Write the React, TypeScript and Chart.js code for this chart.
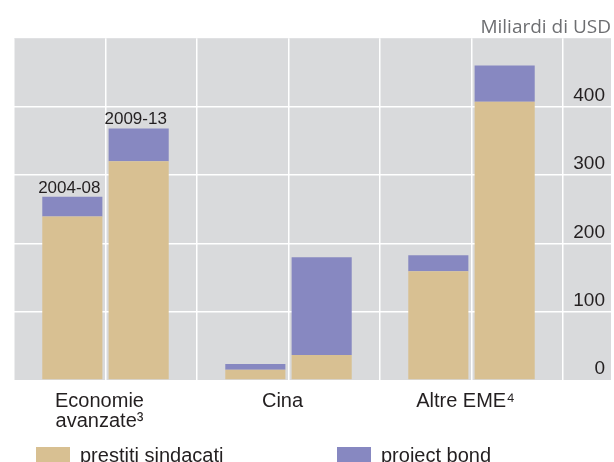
import React, { useEffect, useRef } from 'react';
import { Chart, registerables } from 'chart.js';

Chart.register(...registerables);

// ---- data ----
const categories: (string | string[])[] = [['Economie', 'avanzate³'], 'Cina', 'Altre EME⁴'];
const periods = ['2004-08', '2009-13'];
const seriesNames = ['prestiti sindacati', 'project bond'];
const prestiti2004 = [239, 15, 159];
const bond2004 = [29, 8.5, 23.5];
const prestiti2009 = [320, 36.5, 407];
const bond2009 = [48, 143, 53];
const yMax = 500;
const yStep = 100;
const unitLabel = 'Miliardi di USD';

// ---- styles ----
const TAN = '#d8c092';
const PURPLE = '#8788c1';
const BG = '#d9dadc';
const TEXT = '#231f20';
const FONT = "'Liberation Sans', Arial, Helvetica, sans-serif";

const halfSlots = categories.flatMap((_, i) => periods.map((p) => `${i}-${p}`));

const bgPlugin = {
  id: 'bgPanel',
  beforeDraw(chart: any) {
    const { ctx, chartArea } = chart;
    const yScale = chart.scales.y;
    ctx.save();
    ctx.fillStyle = BG;
    ctx.fillRect(chartArea.left, chartArea.top, yScale.right - chartArea.left, chartArea.bottom - chartArea.top);
    ctx.restore();
  },
};

const periodLabelPlugin = {
  id: 'periodLabels',
  afterDatasetsDraw(chart: any) {
    const ctx = chart.ctx;
    ctx.save();
    ctx.font = `17px ${FONT}`;
    ctx.fillStyle = TEXT;
    ctx.textAlign = 'center';
    ctx.textBaseline = 'alphabetic';
    [1, 3].forEach((dsIndex, k) => {
      const el = chart.getDatasetMeta(dsIndex).data[0];
      if (el) ctx.fillText(periods[k], el.x - 3, el.y - 4);
    });
    ctx.restore();
  },
};

export default function App() {
  const ref = useRef<HTMLCanvasElement | null>(null);

  useEffect(() => {
    document.body.style.margin = '0';
    if (!ref.current) return;
    const chart = new Chart(ref.current, {
      type: 'bar',
      data: {
        labels: categories as any,
        datasets: [
          { label: seriesNames[0], data: prestiti2004, backgroundColor: TAN, stack: periods[0] },
          { label: seriesNames[1], data: bond2004, backgroundColor: PURPLE, stack: periods[0] },
          { label: seriesNames[0], data: prestiti2009, backgroundColor: TAN, stack: periods[1] },
          { label: seriesNames[1], data: bond2009, backgroundColor: PURPLE, stack: periods[1] },
        ],
      },
      options: {
        responsive: false,
        animation: false,
        events: [],
        categoryPercentage: 0.725,
        barPercentage: 0.906,
        layout: { padding: { left: 14, right: 3, top: 0, bottom: 20 } },
        plugins: {
          legend: { display: false },
          tooltip: { enabled: false },
          title: {
            display: true,
            text: unitLabel,
            align: 'end',
            color: '#6d6e71',
            font: { family: "'Open Sans', sans-serif", size: 19, weight: 'normal', lineHeight: 1.1 },
            padding: { top: 17.3, bottom: 0 },
          },
        },
        scales: {
          x: {
            type: 'category',
            position: 'bottom',
            offset: true,
            grid: { display: false, drawTicks: false },
            border: { display: false },
            ticks: {
              color: TEXT,
              font: { family: FONT, size: 20, lineHeight: 1.0 },
              padding: 11,
              labelOffset: -6,
              maxRotation: 0,
              autoSkip: false,
            },
          },
          x2: {
            type: 'category',
            position: 'bottom',
            labels: halfSlots,
            offset: true,
            grid: { display: true, offset: true, color: '#ffffff', lineWidth: 1.5, drawTicks: false },
            border: { display: false },
            ticks: { display: false },
          },
          y: {
            position: 'right',
            stacked: true,
            min: 0,
            max: yMax,
            afterFit: (scale: any) => {
              scale.width = 48;
              scale.paddingTop = 0;
              scale.paddingBottom = 0;
            },
            grid: {
              color: (c: any) => (c.tick && (c.tick.value === 0 || c.tick.value === yMax) ? 'rgba(0,0,0,0)' : '#ffffff'),
              lineWidth: 1.5,
              drawTicks: true,
              tickLength: 48,
            },
            border: { display: false },
            ticks: {
              stepSize: yStep,
              mirror: true,
              padding: 42,
              labelOffset: -11,
              color: TEXT,
              font: { family: FONT, size: 19 },
              callback: (v: any) => (v === yMax ? '' : String(v)),
            },
          },
        },
      },
      plugins: [bgPlugin, periodLabelPlugin],
    } as any);
    return () => chart.destroy();
  }, []);

  const legendText: React.CSSProperties = {
    position: 'absolute',
    top: 444.6,
    fontFamily: FONT,
    fontSize: 20,
    lineHeight: '20px',
    color: TEXT,
    whiteSpace: 'nowrap',
  };
  const box = (left: number, color: string): React.CSSProperties => ({
    position: 'absolute',
    left,
    top: 447,
    width: 34,
    height: 15,
    background: color,
  });

  return (
    <div style={{ position: 'fixed', left: 0, top: 0, width: 614, height: 462, overflow: 'hidden', background: '#fff' }}>
      <canvas ref={ref} width={614} height={462} style={{ width: 614, height: 462, display: 'block' }} />
      <div style={box(36, TAN)} />
      <div style={{ ...legendText, left: 80 }}>{seriesNames[0]}</div>
      <div style={box(337, PURPLE)} />
      <div style={{ ...legendText, left: 381 }}>{seriesNames[1]}</div>
    </div>
  );
}
